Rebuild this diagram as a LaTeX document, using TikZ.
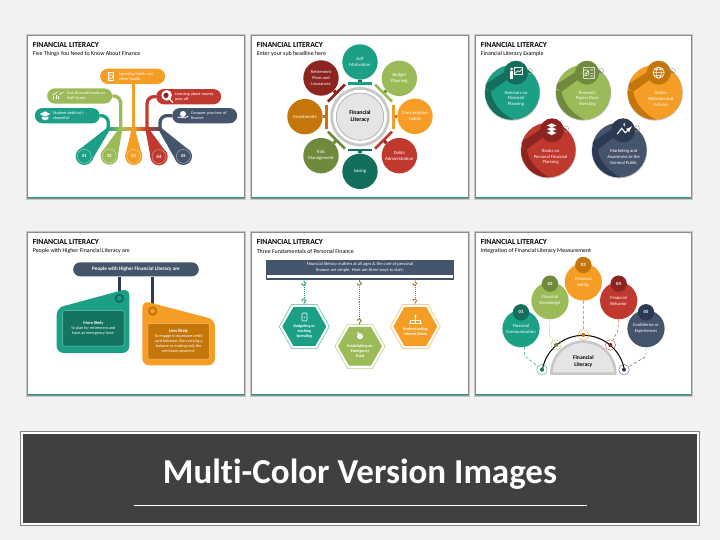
\documentclass[tikz,border=0pt]{standalone}
\usepackage{fontspec}
\setmainfont{Carlito}[Ligatures={NoCommon}]
\usetikzlibrary{calc}
\definecolor{tealC}{HTML}{1BA085}
\definecolor{tealD}{HTML}{136F5C}
\definecolor{greenC}{HTML}{9BBB59}
\definecolor{greenD}{HTML}{6F8A3C}
\definecolor{orangeC}{HTML}{F59D24}
\definecolor{orangeD}{HTML}{C5760A}
\definecolor{redC}{HTML}{C0392F}
\definecolor{redD}{HTML}{8C2420}
\definecolor{navyC}{HTML}{44546A}
\definecolor{navyD}{HTML}{2B3A52}
\definecolor{pageC}{HTML}{F2F2F2}
\definecolor{darkC}{HTML}{404040}
\newcommand\fz[2]{\fontsize{#1}{#2}\selectfont}
\tikzset{
  slidetitle/.style={anchor=west,inner sep=0pt,font=\fz{7.7}{9}\bfseries,text=black},
  slidesub/.style={anchor=west,inner sep=0pt,font=\fz{5.9}{7},text=black},
  pill/.style={rectangle,rounded corners=7.6pt,minimum width=65pt,minimum height=15.2pt,inner sep=0pt,fill=#1},
  pilltext/.style={anchor=west,inner sep=0pt,align=left,text=white,font=\fz{4.2}{5}},
  numdisc/.style={circle,minimum size=17.4pt,inner sep=0pt,fill=#1,text=white,font=\fz{4.6}{5}\bfseries},
  wheeldisc/.style={circle,minimum size=35.4pt,inner sep=0pt,fill=#1,text=white,align=center,font=\fz{4.7}{6}},
  examplelabel/.style={inner sep=0pt,align=center,text=white,font=\fz{4.6}{5.8}},
  hextext/.style={inner sep=0pt,align=center,text=white,font=\fz{4.05}{5.1}\bfseries},
  halfdisc/.style={circle,minimum size=37.2pt,inner sep=0pt,fill=#1,text=white,align=center,font=\fz{4.6}{5.8}},
  headdisc/.style={circle,minimum size=16.4pt,inner sep=0pt,fill=#1,text=white,font=\fz{4.8}{5}\bfseries},
  tagtext/.style={inner sep=0pt,align=center,text=white,font=\fz{4.15}{5}},
  wire/.style={line width=3.3pt,line cap=butt},
  iconline/.style={draw=white,line width=.6pt,fill=none},
  iconfill/.style={fill=white,draw=none},
  dashwire/.style={line width=.45pt,densely dashed},
  zoomed/.style={shift={#1},x=.33333pt,y=-.33333pt}
}
% slide card in absolute pixels
\newcommand\slidecard[4]{%
  \fill[black!22] (#1-2,#2-2) rectangle (#3+2,#4+2);
  \fill[black!45] (#1-1,#2-1) rectangle (#3+.8,#4+1);
  \fill[white] (#1,#2) rectangle (#3,#4);
  \draw[tealC,line width=1.3pt] (#1,#4-.7) -- (#3,#4-.7);
}
% teardrop: #1 colour, #2 top coordinate, #3 disc coordinate, #4 radius in pt
\newcommand\teardrop[4]{%
  \fill[#1] ($(#3)!#4pt!90:(#2)$) -- ($(#2)!1.7pt!-90:(#3)$) -- ($(#2)!1.7pt!90:(#3)$) -- ($(#3)!#4pt!-90:(#2)$) -- cycle;
}
% hexagon: centre x, y, colour
\newcommand\hexag[3]{%
  \begin{scope}[shift={(#1,#2)}]
    \draw[#3!75,line width=.5pt] (-75,0) -- (-38,-66) -- (38,-66) -- (75,0) -- (38,66) -- (-38,66) -- cycle;
    \fill[#3] (-66,0) -- (-33,-58) -- (33,-58) -- (66,0) -- (33,58) -- (-33,58) -- cycle;
  \end{scope}}
% hook: x, y, colour, flip
\newcommand\chainhook[4]{%
  \begin{scope}[shift={(#1,#2)},yscale=#4]
    \draw[#3,line width=.9pt] (0,0) -- (0,6) .. controls (7,9) and (7,14) .. (0,17) .. controls (-6,19) and (-8,12) .. (-5,10);
  \end{scope}}
% example disc: main, dark, cx, cy
\newcommand\exampledisc[4]{%
  \begin{scope}[shift={(#3,#4)}]
    \fill[black!25] (0,1.5) circle[radius=83.5];
    \fill[#1] (0,0) circle[radius=82];
    \begin{scope}
      \clip (0,0) circle[radius=82];
      \fill[#2] (-65,-2) .. controls (-62,20) and (-45,58) .. (3,82) -- (-90,90) -- (-90,-10) -- cycle;
      \fill[#2] (-90,-18) -- (-22,-62) -- (52,-74) -- (58,-60) -- (-17,-37) -- (-65,-2) -- cycle;
    \end{scope}
    \draw[black!35,line width=.5pt] (53,-64) circle[radius=8];
    \draw[black!35,line width=.5pt] (-81,-13) arc[start angle=150,end angle=210,radius=9];
    \fill[#2] (11,-59) circle[radius=36];
  \end{scope}}
\begin{document}
\begin{tikzpicture}[x=1pt,y=-1pt]
\useasboundingbox (0,0) rectangle (720,540);
\fill[pageC] (0,0) rectangle (720,540);
\slidecard{27.5}{36}{244}{198}
\slidecard{252}{36}{468}{198}
\slidecard{476}{36}{691}{198}
\slidecard{27.5}{233}{244}{395}
\slidecard{252}{233}{468}{395}
\slidecard{476}{233}{691}{395}

% ---------- slide 1
\begin{scope}[zoomed={(20pt,-30pt)}]
\node[slidetitle] (a0) at (38,44) {FINANCIAL LITERACY};
\node[slidesub] (a00) at (38,72) {Five Things You Need to Know About Finance};
\node[pill=orangeC] (ap3) at (338,139) {};
\node[pill=greenC] (ap2) at (179,198) {};
\node[pill=tealC] (ap1) at (142,257) {};
\node[pill=redC] (ap4) at (506,200) {};
\node[pill=navyC] (ap5) at (554,257) {};
\coordinate (aj1) at (265,297);
\coordinate (aj2) at (302,297);
\coordinate (aj3) at (340,297);
\coordinate (aj4) at (381,297);
\coordinate (aj5) at (420,297);
\draw[wire,orangeC] (aj3 |- ap3.south) -- (aj3);
\draw[wire,greenC,rounded corners=7pt] (ap2.east) -| (aj2);
\draw[wire,tealC,rounded corners=7pt] (ap1.east) -| (aj1);
\draw[wire,redC,rounded corners=7pt] (ap4.west) -| (aj4);
\draw[wire,navyC,rounded corners=7pt] (ap5.west) -| (aj5);
\shade[left color=tealC,right color=greenC] (260,293) rectangle (302,302);
\shade[left color=greenC,right color=orangeC] (302,293) rectangle (340,302);
\shade[left color=orangeC,right color=redC] (340,293) rectangle (381,302);
\shade[left color=redC,right color=navyC] (381,293) rectangle (425,302);
\coordinate (ac1) at (193,379);
\coordinate (ac2) at (268,378);
\coordinate (ac3) at (341,379);
\coordinate (ac4) at (417,380);
\coordinate (ac5) at (490,379);
\teardrop{tealC}{aj1}{ac1}{8.6}
\teardrop{greenC}{aj2}{ac2}{8.6}
\teardrop{orangeC}{aj3}{ac3}{8.6}
\teardrop{redC}{aj4}{ac4}{8.6}
\teardrop{navyC}{aj5}{ac5}{8.6}
\node[numdisc=tealC] (ad1) at (ac1) {01};
\node[numdisc=greenC] (ad2) at (ac2) {02};
\node[numdisc=orangeC] (ad3) at (ac3) {03};
\node[numdisc=redC] (ad4) at (ac4) {04};
\node[numdisc=navyC] (ad5) at (ac5) {05};
\foreach \n in {ad1,ad2,ad3,ad4,ad5}{\draw[white,opacity=.55,line width=.4pt] (\n.center) circle[radius=21];}
\node[pilltext] (at3) at (296,139) {Spending habits can\\effect health};
\node[pilltext] (at2) at (140,198) {Not all model work on\\Wall Street};
\node[pilltext] (at1) at (99,257) {Student debt isn't\\shameful};
\node[pilltext] (at4) at (465,200) {Learning about money\\pays off};
\node[pilltext] (at5) at (513,257) {Conquer your fear of\\finance};
% icons
\draw[iconline] (264,128) rectangle (280,152);
\draw[iconline] (272,140) circle[radius=6];
\draw[iconline] (100,208) -- (100,198) (108,208) -- (108,194) (116,208) -- (116,198);
\draw[iconline] (96,196) -- (112,186) (118,193) -- (130,186);
\fill[iconfill] (60,252) -- (75,244) -- (91,252) -- (75,260) -- cycle;
\fill[iconfill] (66,259) -- (75,263) -- (85,259) -- (85,267) -- (75,271) -- (66,267) -- cycle;
\fill[white] (440,196) circle[radius=16];
\fill[redD] (438,196) circle[radius=8];
\draw[white,line width=1.1pt] (447,206) -- (459,218);
\fill[iconfill] (489,252) circle[radius=9];
\draw[white,line width=.8pt] (472,262) .. controls (482,258) and (492,270) .. (505,258);
\end{scope}

% ---------- slide 2
\begin{scope}[zoomed={(245pt,-30pt)}]
\node[slidetitle] (b0) at (35,44) {FINANCIAL LITERACY};
\node[slidesub] (b00) at (35,72) {Enter your sub headline here};
\coordinate (bc) at (345,260);
\draw[black!22,line width=2.8pt] (bc) circle[radius=85];
\node[circle,draw=black!40,line width=.5pt,fill=black!10,minimum size=47.4pt,inner sep=0pt,align=center,font=\fz{5.8}{7.5}\bfseries,text=black] (bcore) at (bc) {Financial\\Literacy};
\node[wheeldisc=tealC] (bd1) at (345,96) {Self\\Motivation};
\node[wheeldisc=greenC] (bd2) at (463,145) {Budget\\Planning};
\node[wheeldisc=orangeC] (bd3) at (510,259) {Consumption\\Habits};
\node[wheeldisc=redC] (bd4) at (463,377) {Debts\\Administration};
\node[wheeldisc=tealD] (bd5) at (345,424) {Saving};
\node[wheeldisc=greenD] (bd6) at (228,377) {Risk\\Management};
\node[wheeldisc=orangeD] (bd7) at (180,260) {Investments};
\node[wheeldisc=redD,font=\fz{4.4}{5.7}] (bd8) at (228,144) {Retirement\\Plans and\\Insurances};
\foreach \a/\c/\d/\n in {90/tealC/tealD/1,45/greenC/greenD/2,0/orangeC/orangeD/3,-45/redC/redD/4,-90/tealD/tealD/5,225/greenD/greenD/6,180/orangeD/orangeD/7,135/redD/redD/8}{
  \begin{scope}[shift={(bc)},rotate=\a]
    \coordinate (bs\n) at (100,0);
    \draw[\d,line width=3.2pt] (bd\n) -- (bs\n);
    \draw[\c,line width=2.7pt] (100,-36) -- (100,36);
  \end{scope}
}
\end{scope}

% ---------- slide 3
\begin{scope}[zoomed={(470pt,-30pt)}]
\node[slidetitle] (c0) at (32,44) {FINANCIAL LITERACY};
\node[slidesub] (c00) at (32,72) {Financial Literacy Example};
\exampledisc{tealC}{tealD}{127}{187}
\exampledisc{greenC}{greenD}{340}{187}
\exampledisc{orangeC}{orangeD}{555}{187}
\exampledisc{redC}{redD}{235}{360}
\exampledisc{navyC}{navyD}{448}{360}
\node[examplelabel] (cl1) at (138,206) {Seminars on\\Financial\\Planning};
\node[examplelabel] (cl2) at (352,206) {Research\\Papers Basic\\Investing};
\node[examplelabel] (cl3) at (572,206) {Online\\Websites and\\Articles};
\node[examplelabel] (cl4) at (242,381) {Books on\\Personal Financial\\Planning};
\node[examplelabel] (cl5) at (461,381) {Marketing and\\Awareness to the\\General Public};
% icons
\fill[iconfill] (125,117) circle[radius=4.5];
\fill[iconfill] (121,124) rectangle (129,146);
\draw[iconline] (132,113) rectangle (158,134);
\draw[iconline] (136,130) -- (144,122) -- (149,126) -- (155,118);
\draw[iconline,rounded corners=1pt] (340,112) rectangle (374,146);
\draw[iconline,fill=greenD] (348,128) circle[radius=9];
\draw[iconline] (344,128) -- (348,132) -- (353,124) (360,120) -- (370,120) (362,130) -- (370,130) (360,138) -- (370,138);
\draw[iconline] (566,128) circle[radius=17] (566,128) ellipse[x radius=8,y radius=17] (549,128) -- (583,128) (552,119) -- (580,119) (552,137) -- (580,137);
\foreach \yy in {287,298,309}{\fill[white] (230,\yy) -- (245,\yy-7) -- (260,\yy) -- (245,\yy+7) -- cycle;\draw[redD,line width=.3pt] (230,\yy) -- (245,\yy+7) -- (260,\yy);}
\draw[white,line width=1.1pt,-{latex}] (442,312) -- (455,295) -- (466,308) -- (486,289);
\node[inner sep=0pt,text=white,font=\fz{5}{5}\bfseries] (cdollar) at (463,284) {\$};
\end{scope}

% ---------- slide 4
\begin{scope}[zoomed={(20pt,-228pt)}]
\node[slidetitle] (d0) at (38,41) {FINANCIAL LITERACY};
\node[slidesub] (d00) at (38,69) {People with Higher Financial Literacy are};
\node[rectangle,rounded corners=7pt,minimum width=125.6pt,minimum height=14pt,inner sep=0pt,fill=navyC,text=white,font=\fz{5.2}{6}\bfseries] (dh) at (348,124) {People with Higher Financial Literacy are};
\coordinate (dk1) at (298,195);
\coordinate (dk2) at (398,235);
\draw[wire,navyD] (dk1 |- dh.south) -- (dk1);
\draw[wire,navyD] (dk2 |- dh.south) -- (dk2);
\fill[tealC,rounded corners=7pt] (110,240) -- (328,181) -- (328,375) -- (110,375) -- cycle;
\fill[orangeC,rounded corners=7pt] (367,218) -- (585,275) -- (585,412) -- (367,412) -- cycle;
\draw[tealD,line width=2pt] (298,211) circle[radius=11];
\draw[orangeD,line width=2pt] (398,249) circle[radius=11];
\node[rectangle,rounded corners=2pt,draw=tealC!60!white,line width=.4pt,fill=tealD!90!tealC,minimum width=61.5pt,minimum height=35.5pt,inner sep=0pt] (dr1) at (220,301) {};
\node[rectangle,rounded corners=2pt,draw=orangeC!70!white,line width=.4pt,fill=orangeD,minimum width=61.5pt,minimum height=35.5pt,inner sep=0pt] (dr2) at (476,340) {};
\node[tagtext] (dt1) at (220,302) {{\fz{4.3}{5}\bfseries More likely}\\To plan for retirement and\\have an emergency fund.};
\node[tagtext] (dt2) at (476,339) {{\fz{4.6}{5}\bfseries Less likely}\\To engage in excessive credit\\card behavior, like carrying a\\balance or making only the\\minimum payment.};
\end{scope}

% ---------- slide 5
\begin{scope}[zoomed={(245pt,-228pt)}]
\node[slidetitle] (e0) at (35,41) {FINANCIAL LITERACY};
\node[slidesub] (e00) at (35,69) {Three Fundamentals of Personal Finance};
\node[rectangle,minimum width=187.6pt,minimum height=19.6pt,inner sep=0pt,fill=navyC] (eh) at (345.5,125.5) {};
\node[rectangle,minimum width=186pt,minimum height=3pt,inner sep=0pt,fill=white] (ew) at (345,147) {};
\node[inner sep=0pt,align=center,text=white,font=\fz{4.5}{5.7}] (et) at (345,118) {Financial literacy matters at all ages \& the core of personal\\finance are simple. Here are three ways to start.};
\chainhook{177}{155}{tealC}{1}
\chainhook{177}{230}{tealC}{-1}
\chainhook{344}{155}{greenD}{1}
\chainhook{344}{290}{greenD}{-1}
\chainhook{510}{155}{orangeD}{1}
\chainhook{510}{230}{orangeD}{-1}
\coordinate (ek1a) at (177,172); \coordinate (ek1b) at (177,213);
\coordinate (ek2a) at (344,172); \coordinate (ek2b) at (344,273);
\coordinate (ek3a) at (510,172); \coordinate (ek3b) at (510,213);
\draw[tealC,line width=.9pt,densely dotted] (ek1a) -- (ek1b);
\draw[greenD,line width=.9pt,densely dotted] (ek2a) -- (ek2b);
\draw[orangeD,line width=.9pt,densely dotted] (ek3a) -- (ek3b);
\hexag{178}{295.5}{tealC}
\hexag{345}{355}{greenC}
\hexag{511}{295.5}{orangeC}
\node[hextext] (eh1) at (178,310) {Budgeting or\\tracking\\Spending};
\node[hextext] (eh2) at (345,369) {Establishing an\\Emergency\\Fund};
\node[hextext] (eh3) at (511,311) {Understanding\\Interest Rates};
\draw[iconline,rounded corners=1pt] (171,255) rectangle (186,279);
\fill[iconfill] (178,268) circle[radius=2];
\fill[iconfill] (345,325) circle[radius=9];
\fill[iconfill] (339,315) circle[radius=3];
\fill[iconfill] (511,264) circle[radius=3.5];
\draw[iconline] (511,268) -- (511,276) (497,284) -- (497,276) -- (525,276) -- (525,284) (511,276) -- (511,284) (492,287) -- (530,287);
\end{scope}

% ---------- slide 6
\begin{scope}[zoomed={(470pt,-228pt)}]
\node[slidetitle] (f0) at (32,41) {FINANCIAL LITERACY};
\node[slidesub] (f00) at (32,69) {Integration of Financial Literacy Measurement};
\node[halfdisc=tealC] (fb1) at (153,302) {Financial\\Communication};
\node[halfdisc=greenC] (fb2) at (240,218) {Financial\\Knowledge};
\node[halfdisc=orangeC] (fb3) at (340,162) {Financial\\Ability};
\node[halfdisc=redC] (fb4) at (446,218) {Financial\\Behavior};
\node[halfdisc=navyC] (fb5) at (528,302) {Confidence or\\Experiences};
\node[headdisc=tealD] (fh1) at (153,253) {01};
\node[headdisc=greenD] (fh2) at (240,167) {02};
\node[headdisc=orangeD] (fh3) at (340,111) {03};
\node[headdisc=redD] (fh4) at (446,167) {04};
\node[headdisc=navyD] (fh5) at (528,253) {05};
\draw[black!22,fill=black!10,line width=2.6pt] (244,437) arc[start angle=180,end angle=360,radius=96] -- cycle;
\node[inner sep=0pt,align=center,text=black,font=\fz{5.6}{7}\bfseries] (fc) at (340,400) {Financial\\Literacy};
\coordinate (fa) at (340,447);
\draw[black,line width=1pt] (fa) ++(190:125) arc[start angle=190,end angle=350,radius=125];
\node[circle,minimum size=10.6pt,inner sep=0pt,draw=tealC,line width=.35pt] (fr1) at (216,425) {};
\node[circle,minimum size=10.6pt,inner sep=0pt,draw=greenC,line width=.35pt] (fr2) at (258,351) {};
\node[circle,minimum size=10.6pt,inner sep=0pt,draw=orangeC,line width=.35pt] (fr3) at (340,321) {};
\node[circle,minimum size=10.6pt,inner sep=0pt,draw=redC,line width=.35pt] (fr4) at (421,351) {};
\node[circle,minimum size=10.6pt,inner sep=0pt,draw=navyC,line width=.35pt] (fr5) at (462,425) {};
\fill[tealD] (fr1) circle[radius=6];
\fill[greenD] (fr2) circle[radius=6];
\fill[orangeD] (fr3) circle[radius=6];
\fill[redD] (fr4) circle[radius=6];
\fill[navyD] (fr5) circle[radius=6];
\coordinate (fk1) at (163,383);
\coordinate (fk2) at (238,320);
\coordinate (fk4) at (443,310);
\coordinate (fk5) at (528,385);
\draw[dashwire,tealC] (fb1.280) -- (fk1) -- (fr1);
\draw[dashwire,greenC] (fb2.south) -- (fk2) -- (fr2);
\draw[dashwire,orangeC] (fb3.south) -- (fr3);
\draw[dashwire,redC] (fb4.south) -- (fk4) -- (fr4);
\draw[dashwire,navyC] (fb5.south) -- (fk5) -- (fr5);
\end{scope}

% ---------- banner
\node[rectangle,minimum width=680pt,minimum height=95pt,inner sep=0pt,fill=black!48] (gouter) at (360,478.5) {};
\node[rectangle,minimum width=678pt,minimum height=93pt,inner sep=0pt,fill=white] (gwhite) at (360,478.5) {};
\node[rectangle,minimum width=674.5pt,minimum height=89.5pt,inner sep=0pt,fill=darkC] (gdark) at (360,478.5) {};
\node[inner sep=0pt,text=white,font=\fz{35}{40}\bfseries] (gtext) at (360,474) {Multi-Color Version Images};
\coordinate (gl) at (134,505);
\coordinate (gr) at (587,505);
\draw[white,line width=.6pt] (gl) -- (gr);
\end{tikzpicture}
\end{document}
